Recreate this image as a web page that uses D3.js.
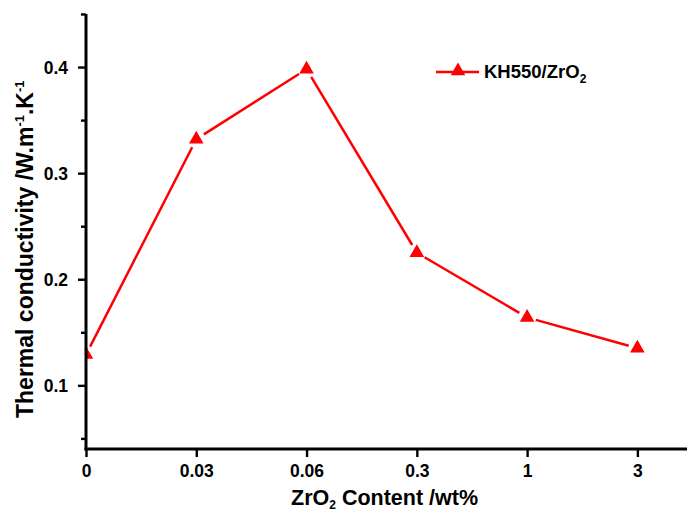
<!DOCTYPE html>
<html>
<head>
<meta charset="utf-8">
<script src="https://cdn.jsdelivr.net/npm/d3@7"></script>
<style>
  html, body { margin: 0; padding: 0; background: #fff; }
  svg { display: block; }
  text { font-family: "Liberation Sans", Arial, sans-serif; font-weight: bold; fill: #000; }
</style>
</head>
<body>
<svg id="chart" width="687" height="512"></svg>
<script>
// ---- data ----
const categories = ["0", "0.03", "0.06", "0.3", "1", "3"];
const conductivity = [0.129, 0.332, 0.398, 0.225, 0.164, 0.135];
const yTicks = [0.1, 0.2, 0.3, 0.4];
const yMinorTicks = [0.05, 0.15, 0.25, 0.35, 0.45];
const seriesName = "KH550/ZrO";

const svg = d3.select("#chart");
const W = 687, H = 512;
const mLeft = 86, mRight = 687, mTop = 14, mBottom = 449;

const x = d3.scaleLinear().domain([0, 5.45]).range([mLeft, mRight]);
const y = d3.scaleLinear().domain([0.04, 0.45]).range([mBottom, mTop]);

// clip
svg.append("defs").append("clipPath").attr("id", "plotclip")
  .append("rect").attr("x", mLeft + 1).attr("y", 0).attr("width", W - mLeft).attr("height", mBottom);

// ---- series line with gaps near markers ----
const red = "#ff0000";
const gap = 9;
const pts = conductivity.map((v, i) => [x(i), y(v)]);
const plot = svg.append("g").attr("clip-path", "url(#plotclip)");
for (let i = 0; i < pts.length - 1; i++) {
  const [x1, y1] = pts[i], [x2, y2] = pts[i + 1];
  const dx = x2 - x1, dy = y2 - y1, L = Math.hypot(dx, dy);
  const ux = dx / L, uy = dy / L;
  plot.append("line")
    .attr("x1", x1 + ux * gap).attr("y1", y1 + uy * gap)
    .attr("x2", x2 - ux * gap).attr("y2", y2 - uy * gap)
    .attr("stroke", red).attr("stroke-width", 2.5);
}
const tri = d3.symbol().type(d3.symbolTriangle).size(92);
plot.selectAll("path.mk").data(conductivity).join("path")
  .attr("class", "mk")
  .attr("d", tri)
  .attr("transform", (d, i) => `translate(${x(i)},${y(d)})`)
  .attr("fill", red);

// ---- axes ----
const yAxis = d3.axisLeft(y).tickValues(yTicks).tickSize(8).tickPadding(10).tickFormat(d3.format(".1f"));
const gy = svg.append("g").attr("transform", `translate(${mLeft},0)`).call(yAxis);
gy.select(".domain").attr("stroke-width", 3).attr("d", `M0,${mTop}V${mBottom + 1.5}`);
gy.selectAll(".tick line").attr("stroke-width", 2.4);
gy.selectAll(".tick text").style("font-size", "17.5px").attr("dy", "0.36em");

const yMinor = d3.axisLeft(y).tickValues(yMinorTicks).tickSize(5).tickFormat("");
const gym = svg.append("g").attr("transform", `translate(${mLeft},0)`).call(yMinor);
gym.select(".domain").remove();
gym.selectAll(".tick line").attr("stroke-width", 2.4);

const xAxis = d3.axisBottom(x).tickValues(d3.range(categories.length))
  .tickFormat(i => categories[i]).tickSize(8).tickPadding(8);
const gx = svg.append("g").attr("transform", `translate(0,${mBottom})`).call(xAxis);
gx.select(".domain").attr("stroke-width", 3).attr("d", `M${mLeft - 1.5},0H${mRight}`);
gx.selectAll(".tick line").attr("stroke-width", 2.4);
gx.selectAll(".tick text").style("font-size", "17.5px");

// ---- axis titles ----
const xt = svg.append("text").attr("x", 291).attr("y", 505).style("font-size", "21.5px");
xt.append("tspan").text("ZrO");
xt.append("tspan").attr("dy", 4).style("font-size", "12px").text("2");
xt.append("tspan").attr("dy", -4).text(" Content /wt%");

const yt = svg.append("text").attr("transform", "translate(33,418) rotate(-90)")
  .attr("text-anchor", "start").style("font-size", "23px");
yt.append("tspan").text("Thermal conductivity /W.m");
yt.append("tspan").attr("dy", -9).style("font-size", "13px").text("-1");
yt.append("tspan").attr("dy", 9).text(".K");
yt.append("tspan").attr("dy", -9).style("font-size", "13px").text("-1");

// ---- legend ----
const lg = svg.append("g");
lg.append("line").attr("x1", 436).attr("x2", 479).attr("y1", 72).attr("y2", 72)
  .attr("stroke", red).attr("stroke-width", 2.5);
lg.append("path").attr("d", tri).attr("transform", "translate(458,71)").attr("fill", red);
const lt = lg.append("text").attr("x", 484).attr("y", 78).style("font-size", "18.5px");
lt.append("tspan").text(seriesName);
lt.append("tspan").attr("dy", 5).style("font-size", "12px").text("2");
</script>
</body>
</html>
